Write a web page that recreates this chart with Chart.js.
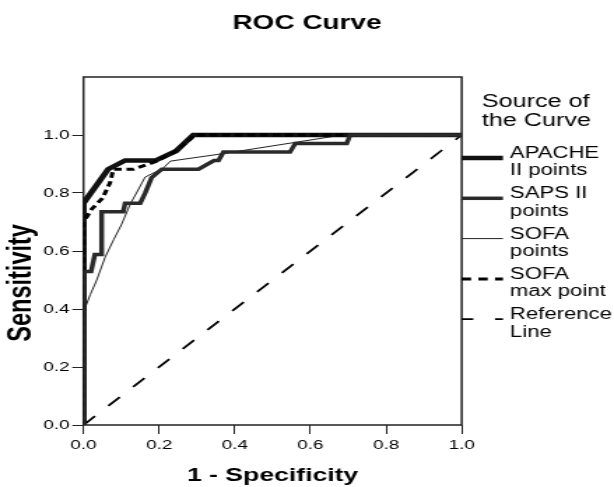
<!DOCTYPE html>
<html>
<head>
<meta charset="utf-8">
<title>ROC Curve</title>
<script src="https://cdn.jsdelivr.net/npm/chart.js@4.4.1/dist/chart.umd.min.js"></script>
<style>
  html, body { margin: 0; padding: 0; background: #fff; }
</style>
</head>
<body>
<!-- the original export is stretched sideways, so draw narrow and widen with css -->
<canvas id="roc" width="439" height="487" style="width:614px;height:487px"></canvas>
<script>
const tickValues = [0, 0.2, 0.4, 0.6, 0.8, 1.0];
const legendTitle = ["Source of", "the Curve"];
const seriesNames = [
  ["APACHE", "II points"],
  ["SAPS II", "points"],
  ["SOFA", "points"],
  ["SOFA", "max point"],
  ["Reference", "Line"]
];

const apacheX = [0, 0, 0.065, 0.11, 0.19, 0.245, 0.29, 1];
const apacheY = [0, 0.765, 0.882, 0.912, 0.912, 0.945, 1, 1];

const sapsX = [0, 0, 0.02, 0.03, 0.048, 0.048, 0.105, 0.11, 0.15, 0.163, 0.18, 0.207, 0.304, 0.345, 0.357, 0.37, 0.546, 0.56, 0.696, 0.705, 1];
const sapsY = [0, 0.529, 0.529, 0.588, 0.588, 0.735, 0.735, 0.765, 0.765, 0.8, 0.853, 0.882, 0.882, 0.912, 0.912, 0.941, 0.941, 0.971, 0.971, 1, 1];

const sofaX = [0, 0, 0.006, 0.018, 0.035, 0.057, 0.08, 0.1, 0.123, 0.163, 0.21, 0.23, 0.36, 0.67, 0.7, 1];
const sofaY = [0, 0.36, 0.41, 0.45, 0.5, 0.578, 0.64, 0.69, 0.76, 0.855, 0.885, 0.91, 0.934, 0.997, 1, 1];

const sofaMaxX = [0, 0, 0.022, 0.05, 0.07, 0.079, 0.132, 0.194, 0.238, 0.282, 0.295, 1];
const sofaMaxY = [0, 0.7, 0.745, 0.782, 0.835, 0.882, 0.882, 0.91, 0.94, 0.985, 1, 1];

const refX = [0, 1];
const refY = [0, 1];

function toPoints(xs, ys) {
  return xs.map((x, i) => ({ x: x, y: ys[i] }));
}

Chart.defaults.font.family = '"Liberation Sans", Arial, sans-serif';
Chart.defaults.color = "#000";

// legend dashes differ a bit from the ones in the plot
const legendDash = [[], [], [], [6.7, 5.2], [8.3, 15.5]];

const rocExtras = {
  id: "rocExtras",
  beforeDatasetsDraw(chart) {
    const { ctx, chartArea: a } = chart;
    ctx.save();
    ctx.strokeStyle = "#222";
    ctx.lineWidth = 1.5;
    ctx.strokeRect(a.left, a.top, a.right - a.left, a.bottom - a.top);

    ctx.translate(16, chart.scales.y.getPixelForValue(0.49));
    ctx.rotate(-Math.PI / 2);
    ctx.font = 'bold 23.5px "Liberation Sans", Arial, sans-serif';
    ctx.fillStyle = "#000";
    ctx.textAlign = "center";
    ctx.textBaseline = "middle";
    ctx.fillText("Sensitivity", 0, 0);
    ctx.restore();
  },
  afterDraw(chart) {
    const { ctx, chartArea: a } = chart;
    ctx.save();
    ctx.fillStyle = "#000";
    ctx.textAlign = "left";
    ctx.textBaseline = "alphabetic";
    ctx.font = '18px "Liberation Sans", Arial, sans-serif';
    ctx.fillText(legendTitle[0], a.right + 14.3, 107.3);
    ctx.fillText(legendTitle[1], a.right + 14.3, 125.7);

    ctx.font = '15.8px "Liberation Sans", Arial, sans-serif';
    chart.data.datasets.forEach((ds, i) => {
      const y = 158 + i * 40.3;
      ctx.beginPath();
      ctx.lineWidth = ds.borderWidth;
      ctx.strokeStyle = ds.borderColor;
      ctx.setLineDash(legendDash[i]);
      ctx.moveTo(a.right, y);
      ctx.lineTo(a.right + 29.5, y);
      ctx.stroke();
      ctx.setLineDash([]);
      seriesNames[i].forEach((line, j) => {
        ctx.fillText(line, a.right + 34.5, y + j * 17.3);
      });
    });
    ctx.restore();
  }
};

const fixedTicks = (axis) => {
  axis.ticks = tickValues.map((v) => ({ value: v }));
};

new Chart(document.getElementById("roc"), {
  type: "scatter",
  data: {
    datasets: [
      {
        label: seriesNames[0].join(" "),
        data: toPoints(apacheX, apacheY),
        borderColor: "#111",
        borderWidth: 4.5,
        order: 3
      },
      {
        label: seriesNames[1].join(" "),
        data: toPoints(sapsX, sapsY),
        borderColor: "#2a2a2a",
        borderWidth: 3.5,
        order: 1
      },
      {
        label: seriesNames[2].join(" "),
        data: toPoints(sofaX, sofaY),
        borderColor: "#222",
        borderWidth: 1,
        order: 4
      },
      {
        label: seriesNames[3].join(" "),
        data: toPoints(sofaMaxX, sofaMaxY),
        borderColor: "#000",
        borderWidth: 3,
        borderDash: [5.5, 3.5],
        order: 2
      },
      {
        label: seriesNames[4].join(" "),
        data: toPoints(refX, refY),
        borderColor: "#000",
        borderWidth: 1.8,
        borderDash: [12, 14],
        order: 5
      }
    ]
  },
  options: {
    responsive: false,
    devicePixelRatio: 1,
    animation: false,
    events: [],
    showLine: true,
    elements: {
      point: { radius: 0 },
      line: { tension: 0, fill: false, borderCapStyle: "butt", borderJoinStyle: "miter" }
    },
    plugins: {
      legend: { display: false },
      tooltip: { enabled: false },
      title: {
        display: true,
        text: "ROC Curve",
        font: { size: 20, weight: "bold" },
        color: "#000",
        padding: { top: 11.8, bottom: 41.2 }
      }
    },
    scales: {
      x: {
        type: "linear",
        min: 0,
        max: 1,
        afterBuildTicks: fixedTicks,
        afterFit: (axis) => { axis.height = 62; },
        ticks: { callback: (v) => v.toFixed(1), font: { size: 13.5 }, padding: 3, color: "#000" },
        grid: { drawOnChartArea: false, tickLength: 9, color: "#222" },
        border: { display: false },
        title: {
          display: true,
          text: "1 - Specificity",
          font: { size: 19, weight: "bold" },
          color: "#000",
          padding: 0
        }
      },
      y: {
        type: "linear",
        min: 0,
        max: 1.2,
        afterBuildTicks: fixedTicks,
        afterFit: (axis) => { axis.width = 59.7; },
        ticks: { callback: (v) => v.toFixed(1), font: { size: 13.5 }, padding: 2, color: "#000" },
        grid: { drawOnChartArea: false, tickLength: 8, color: "#222" },
        border: { display: false }
      },
      // empty right-hand axis keeps room for the legend
      gutter: {
        type: "linear",
        axis: "y",
        position: "right",
        grid: { display: false },
        ticks: { display: false },
        border: { display: false },
        afterFit: (axis) => { axis.width = 108.9; }
      }
    }
  },
  plugins: [rocExtras]
});
</script>
</body>
</html>
